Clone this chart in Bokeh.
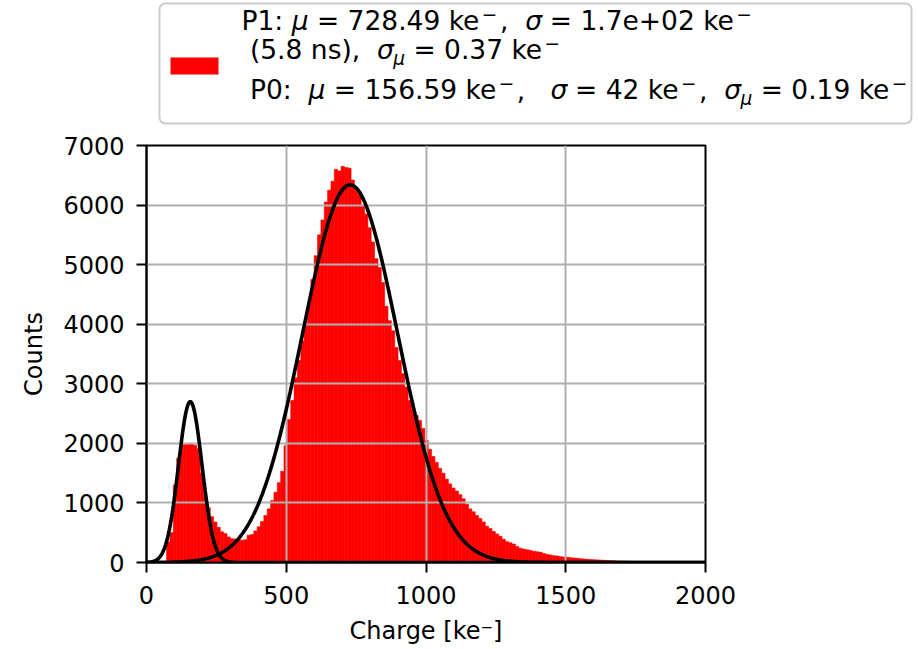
import numpy as np
from bokeh.plotting import figure
from bokeh.layouts import column
from bokeh.models import Range1d, FixedTicker, ColumnDataSource
from bokeh.core.properties import value
from bokeh.embed import file_html
from bokeh.resources import INLINE

# ---------------- data ----------------
bin_start = 72          # ke-, left edge of first bin
bin_width = 12          # ke-
counts = [
    345, 500, 1300, 1750, 1965, 1980, 1990, 1990, 1970, 1910,
    1500, 1130, 920, 770, 680, 590, 515, 485, 430, 400,
    395, 390, 375, 380, 458, 470, 530, 600, 690, 790,
    900, 1040, 1180, 1340, 1530, 1960, 2400, 2720, 3100, 3390,
    3720, 4000, 4335, 4750, 5150, 5500, 5750, 6050, 6250, 6400,
    6600, 6570, 6650, 6630, 6620, 6420, 6270, 6180, 6000, 5850,
    5620, 5380, 5100, 4950, 4700, 4300, 4060, 3890, 3610, 3390,
    3170, 2945, 2720, 2560, 2470, 2385, 2250, 2050, 1900, 1780,
    1680, 1580, 1500, 1400, 1320, 1250, 1200, 1140, 1070, 980,
    900, 850, 790, 740, 680, 610, 570, 520, 480, 440,
    390, 350, 330, 310, 270, 240, 225, 215, 200, 190,
    180, 170, 150, 135, 125, 115, 108, 98, 92, 88,
    80, 75, 70, 64, 58, 54, 50, 47, 44, 40,
    37, 34, 31, 28, 26, 24, 22, 20, 18, 15,
    12, 10, 8, 6,
]

# fit parameters (Gaussian peaks P0 and P1)
p0_mu, p0_sigma, p0_amp = 156.59, 42.0, 2700.0
p1_mu, p1_sigma, p1_amp = 728.49, 170.0, 6340.0

x_ticks = [0, 500, 1000, 1500, 2000]
y_ticks = [0, 1000, 2000, 3000, 4000, 5000, 6000, 7000]

x_label = "Charge [ke⁻]"
y_label = "Counts"

# legend text pieces: n = normal, i = italic (math), sub = subscript, sup = superscript minus
legend_lines = [
    [("P1: ", "n"), ("μ", "i"), (" = 728.49 ke", "n"), ("−", "sup"), (",  ", "n"),
     ("σ", "i"), (" = 1.7e+02 ke", "n"), ("−", "sup")],
    [(" (5.8 ns),  ", "n"), ("σ", "i"), ("μ", "sub"), (" = 0.37 ke", "n"), ("−", "sup")],
    [(" P0:  ", "n"), ("μ", "i"), (" = 156.59 ke", "n"), ("−", "sup"), (",   ", "n"),
     ("σ", "i"), (" = 42 ke", "n"), ("−", "sup"), (",  ", "n"),
     ("σ", "i"), ("μ", "sub"), (" = 0.19 ke", "n"), ("−", "sup")],
]

FONT = "DejaVu Sans"
FS = 24        # tick / axis label size
LFS = 26.5     # legend text size

# ---------------- main plot ----------------
left = bin_start + bin_width * np.arange(len(counts))
right = left + bin_width
hist_src = ColumnDataSource(dict(left=left, right=right, top=counts, bottom=np.zeros(len(counts))))

xs = np.linspace(0, 2000, 1001)
fit0 = p0_amp * np.exp(-0.5 * ((xs - p0_mu) / p0_sigma) ** 2)
fit1 = p1_amp * np.exp(-0.5 * ((xs - p1_mu) / p1_sigma) ** 2)

main = figure(width=918, height=521, x_range=Range1d(0, 2000), y_range=Range1d(0, 7000),
              output_backend="svg", toolbar_location=None,
              min_border_left=146, min_border_right=213, min_border_top=17, min_border_bottom=87)
main.background_fill_color = "white"
main.border_fill_color = "white"
main.frame_align = False

bars = main.quad(left="left", right="right", top="top", bottom="bottom", source=hist_src,
                 fill_color="#ff0000", line_color="#ff0000", line_width=0.6)
bars.level = "image"

main.line(xs, fit0, line_color="black", line_width=3.6)
main.line(xs, fit1, line_color="black", line_width=3.6)

main.xaxis.ticker = FixedTicker(ticks=x_ticks)
main.yaxis.ticker = FixedTicker(ticks=y_ticks)
for ax in (main.xaxis, main.yaxis):
    ax.major_label_text_font = FONT
    ax.major_label_text_font_size = f"{FS}px"
    ax.major_label_text_color = "black"
    ax.axis_label_text_font = FONT
    ax.axis_label_text_font_size = f"{FS}px"
    ax.axis_label_text_font_style = "normal"
    ax.axis_label_text_color = "black"
    ax.minor_tick_line_color = None
    ax.major_tick_in = 0
    ax.major_tick_out = 10
    ax.major_tick_line_width = 2
    ax.major_tick_line_color = "black"
    ax.axis_line_width = 2
    ax.axis_line_color = "black"
main.xaxis.axis_label = x_label
main.yaxis.axis_label = y_label
main.xaxis.major_label_standoff = 13
main.yaxis.major_label_standoff = 12
main.xaxis.axis_label_standoff = 10
main.yaxis.axis_label_standoff = 12

main.grid.grid_line_color = "#b0b0b0"
main.grid.grid_line_width = 2
main.outline_line_color = "black"
main.outline_line_width = 2
main.outline_line_alpha = 1.0

# ---------------- legend box (separate strip above) ----------------
H = 128
leg = figure(width=918, height=H, x_range=Range1d(0, 918), y_range=Range1d(0, H),
             output_backend="svg", toolbar_location=None,
             x_axis_location=None, y_axis_location=None, min_border=0)
leg.frame_align = False
leg.outline_line_color = None
leg.background_fill_color = "white"
leg.border_fill_color = "white"
leg.grid.visible = False

def Y(y):
    return H - y

leg.quad(left=159, right=911, top=Y(3), bottom=Y(123), fill_color="white",
         line_color="#cccccc", line_width=2, border_radius=6)
leg.quad(left=170, right=218, top=Y(57), bottom=Y(74), fill_color="#ff0000", line_color=None)

W = {' ': 651, '(': 799, ')': 799, '+': 1716, ',': 651, '.': 651, ':': 690, '=': 1716,
     'P': 1235, 'e': 1260, 'k': 1186, 'n': 1298, 's': 1067, 'μ': 1300, 'σ': 1250, '−': 1716}
for d in '0123456789':
    W[d] = 1303

def tw(s, size):
    return sum(W.get(c, 1200) for c in s) / 2048.0 * size

SMALL = LFS * 0.7
centers = [19.5, 49, 89]
segs = {k: dict(x=[], y=[], t=[]) for k in ("n", "i", "sub", "sup")}
for line, cy in zip(legend_lines, centers):
    cur = 241.0
    for txt, kind in line:
        size = SMALL if kind in ("sub", "sup") else LFS
        lead = len(txt) - len(txt.lstrip(' '))
        x0 = cur + tw(' ' * lead, size)
        if kind == "sub":
            y = cy + 8.5
        elif kind == "sup":
            y = cy - 6
            x0 += 1.5
        else:
            y = cy
        segs[kind]["x"].append(x0)
        segs[kind]["y"].append(Y(y))
        segs[kind]["t"].append(txt.strip(' '))
        cur += tw(txt, size) + (4 if kind == "sup" else 0)

styles = {"n": ("normal", LFS), "i": ("italic", LFS), "sub": ("italic", SMALL), "sup": ("normal", SMALL)}
for kind, (style, size) in styles.items():
    leg.text(x=segs[kind]["x"], y=segs[kind]["y"], text=segs[kind]["t"], text_font=value(FONT),
             text_font_size=f"{size:.1f}px", text_font_style=style, text_baseline="middle",
             text_align="left", text_color="black")

layout = column(leg, main, spacing=0)
open("out.html", "w").write(file_html(layout, INLINE))
